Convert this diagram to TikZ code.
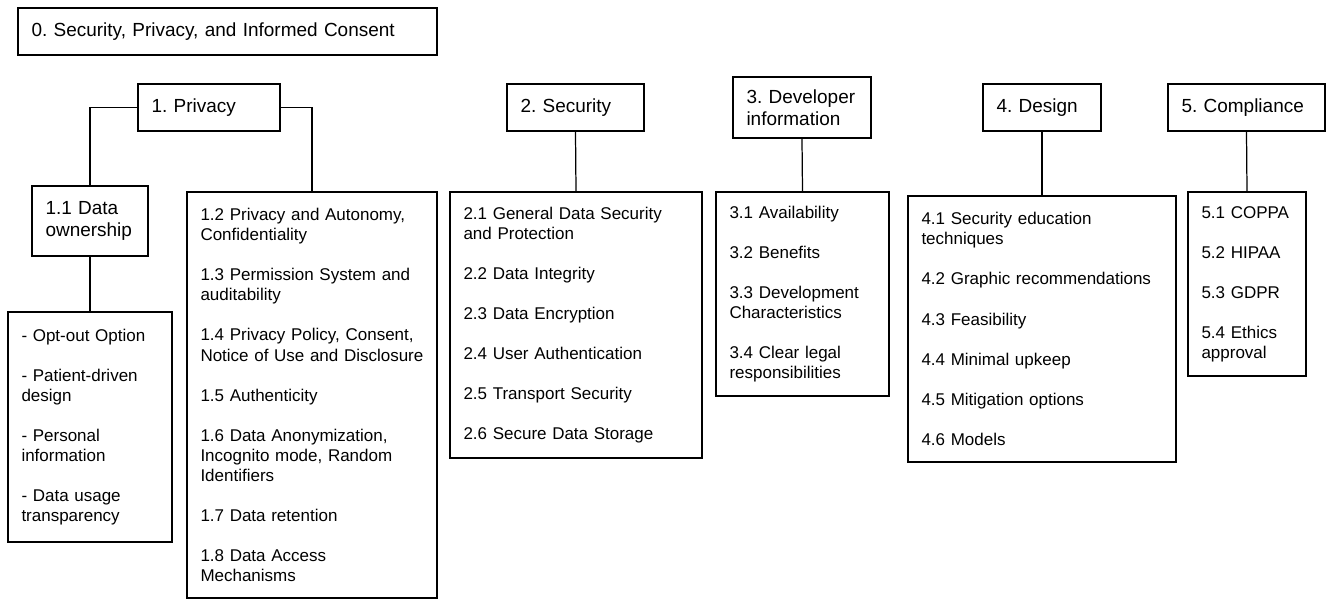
\documentclass[tikz,border=0pt]{standalone}
\usepackage{fontspec}
\setmainfont{Liberation Sans}
\frenchspacing
\hyphenpenalty=10000
\exhyphenpenalty=10000
\newcommand{\ItemGap}{\\[11.4pt]}
\tikzset{
  figure/.style={font=\fontsize{9.67pt}{11.4pt}\selectfont,text=black},
  header/.style={draw=black,line width=1.4pt,align=left,inner xsep=0.27cm,inner ysep=2pt,
    font=\fontsize{10.8pt}{12.5pt}\selectfont},
  leaf/.style={draw=black,line width=0.7pt,align=left,inner xsep=0.27cm,inner ysep=2pt},
  link/.style={line width=0.7pt,draw=black},
}

\begin{document}
\begin{tikzpicture}[figure]
  \useasboundingbox (0,0) rectangle (26.64,11.98);

  \node[header,minimum width=8.38cm,minimum height=0.94cm,text width=7.84cm] (root) at (4.55,11.35)
    {0. Security, Privacy, and Informed Consent};

  % top level themes
  \node[header,minimum width=2.84cm,minimum height=0.94cm,text width=2.30cm] (privacy) at (4.18,9.83)
    {1. Privacy};
  \node[header,minimum width=2.74cm,minimum height=0.94cm,text width=2.20cm] (security) at (11.51,9.83)
    {2. Security};
  \node[header,minimum width=2.76cm,minimum height=1.22cm,text width=2.22cm] (developer) at (16.04,9.83)
    {\mbox{3. Developer}\\information};
  \node[header,minimum width=2.36cm,minimum height=0.94cm,text width=1.82cm] (design) at (20.84,9.83)
    {4. Design};
  \node[header,minimum width=3.14cm,minimum height=0.94cm,text width=2.60cm] (compliance) at (24.93,9.83)
    {5. Compliance};

  % sub themes
  \node[leaf,font=\fontsize{10.8pt}{12.5pt}\selectfont,minimum width=2.32cm,minimum height=1.40cm,
        text width=1.78cm] (ownership) at (1.80,7.56)
    {1.1 Data\\ownership};
  \node[leaf,minimum width=3.28cm,minimum height=4.60cm,text width=2.74cm] (optout) at (1.80,3.44)
    {- Opt-out Option\ItemGap
     - Patient-driven\\design\ItemGap
     - Personal\\information\ItemGap
     - Data usage\\transparency};
  \node[leaf,minimum width=5.00cm,minimum height=8.12cm,text width=4.46cm] (privitems) at (6.24,4.08)
    {1.2 Privacy and Autonomy,\\Confidentiality\ItemGap
     1.3 Permission System and\\auditability\ItemGap
     1.4 Privacy Policy, Consent,\\\mbox{Notice of Use and Disclosure}\ItemGap
     1.5 Authenticity\ItemGap
     1.6 Data Anonymization,\\Incognito mode, Random\\Identifiers\ItemGap
     1.7 Data retention\ItemGap
     1.8 Data Access\\Mechanisms};
  \node[leaf,minimum width=5.04cm,minimum height=5.32cm,text width=4.50cm] (secitems) at (11.52,5.48)
    {2.1 General Data Security\\and Protection\ItemGap
     2.2 Data Integrity\ItemGap
     2.3 Data Encryption\ItemGap
     2.4 User Authentication\ItemGap
     2.5 Transport Security\ItemGap
     2.6 Secure Data Storage};
  \node[leaf,minimum width=3.46cm,minimum height=4.08cm,text width=2.92cm] (devitems) at (16.05,6.10)
    {3.1 Availability\ItemGap
     3.2 Benefits\ItemGap
     3.3 Development\\Characteristics\ItemGap
     3.4 Clear legal\\responsibilities};
  \node[leaf,minimum width=5.36cm,minimum height=5.32cm,text width=4.82cm] (desitems) at (20.84,5.40)
    {4.1 Security education\\techniques\ItemGap
     4.2 Graphic recommendations\ItemGap
     4.3 Feasibility\ItemGap
     4.4 Minimal upkeep\ItemGap
     4.5 Mitigation options\ItemGap
     4.6 Models};
  \node[leaf,minimum width=2.36cm,minimum height=3.68cm,text width=1.82cm] (compitems) at (24.94,6.30)
    {\mbox{5.1 COPPA}\ItemGap
     5.2 HIPAA\ItemGap
     5.3 GDPR\ItemGap
     5.4 Ethics\\approval};

  % connectors
  \draw[link] (privacy.west) -| (ownership.north);
  \draw[link] (privacy.east) -| (privitems.north);
  \draw[link] (ownership.south) -- (optout.north);
  \draw[link] (security.south) -- (secitems.north);
  \draw[link] (developer.south) -- (devitems.north);
  \draw[link] (design.south) -- (desitems.north);
  \draw[link] (compliance.south) -- (compitems.north);
\end{tikzpicture}
\end{document}
